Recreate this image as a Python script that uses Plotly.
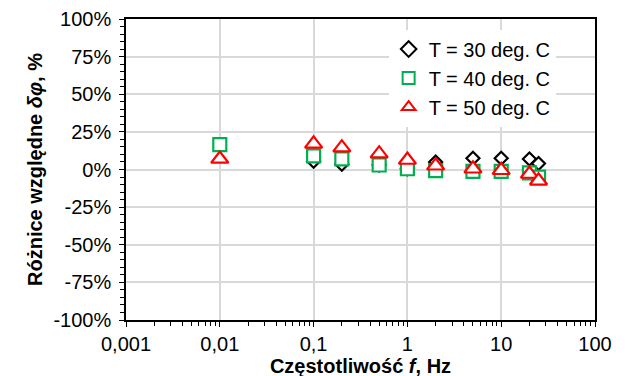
import plotly.graph_objects as go

# Data
freq = [0.01, 0.1, 0.2, 0.5, 1, 2, 5, 10, 20, 25]
t30 = [None, 0.055, 0.035, 0.03, 0.005, 0.05, 0.075, 0.075, 0.07, 0.04]
t40 = [0.165, 0.09, 0.07, 0.03, 0.005, -0.007, -0.013, -0.013, -0.023, -0.05]
t50 = [0.07, 0.17, 0.145, 0.105, 0.063, 0.025, 0.005, -0.005, -0.03, -0.075]

series_names = ["T = 30 deg. C", "T = 40 deg. C", "T = 50 deg. C"]
x_tickvals = [0.001, 0.01, 0.1, 1, 10, 100]
x_ticktext = ["0,001", "0,01", "0,1", "1", "10", "100"]
y_tickvals = [-1, -0.75, -0.5, -0.25, 0, 0.25, 0.5, 0.75, 1]
y_ticktext = ["-100%", "-75%", "-50%", "-25%", "0%", "25%", "50%", "75%", "100%"]

font = "Arial, Liberation Sans, sans-serif"

fig = go.Figure()
# markers have a white fill, so later series hide earlier ones
fig.add_trace(go.Scatter(
    x=freq, y=t30, mode="markers", name=series_names[0],
    marker=dict(symbol="diamond", size=10, color="white",
                line=dict(width=2.2, color="black"))
))
fig.add_trace(go.Scatter(
    x=freq, y=t40, mode="markers", name=series_names[1],
    marker=dict(symbol="square", size=13, color="white",
                line=dict(width=2.2, color="#00b050"))
))
fig.add_trace(go.Scatter(
    x=freq, y=t50, mode="markers", name=series_names[2],
    marker=dict(symbol="triangle-up", size=15, color="white",
                line=dict(width=2.2, color="#ff0000"))
))

# the page puts the figure 8px in from the top-left corner
fig.update_layout(
    width=625, height=376,
    margin=dict(l=118, r=38, t=11, b=64, autoexpand=False),
    paper_bgcolor="white", plot_bgcolor="white",
    font=dict(family=font, size=20, color="black"),
    showlegend=True,
    legend=dict(x=0.56, y=0.965, xanchor="left", yanchor="top",
                bgcolor="white", font=dict(size=20), itemsizing="constant",
                tracegroupgap=0, itemwidth=30),
    xaxis=dict(
        type="log", range=[-3, 2], automargin=False,
        tickvals=x_tickvals, ticktext=x_ticktext,
        showgrid=True, gridcolor="#d9d9d9", gridwidth=1.5,
        showline=True, linecolor="black", linewidth=1.5, mirror=True,
        ticks="outside", ticklen=5, tickcolor="black",
        minor=dict(ticks="outside", ticklen=4, tickcolor="black", dtick="D1", showgrid=False),
        zeroline=False,
        title=dict(text="<b>Częstotliwość <i>f</i>, Hz</b>", font=dict(size=20), standoff=1),
    ),
    yaxis=dict(
        range=[-1, 1], automargin=False,
        tickvals=y_tickvals, ticktext=y_ticktext, ticklabelstandoff=4,
        showgrid=True, gridcolor="#d9d9d9", gridwidth=1.5,
        showline=True, linecolor="black", linewidth=1.5, mirror=True,
        ticks="outside", ticklen=5, tickcolor="black",
        minor=dict(ticks="outside", ticklen=4, tickcolor="black", dtick=0.05, showgrid=False),
        zeroline=False,
        title=dict(text="<b>Różnice względne <i>δφ</i>, %</b>", font=dict(size=20), standoff=5),
    ),
)

fig.write_html("out.html")
